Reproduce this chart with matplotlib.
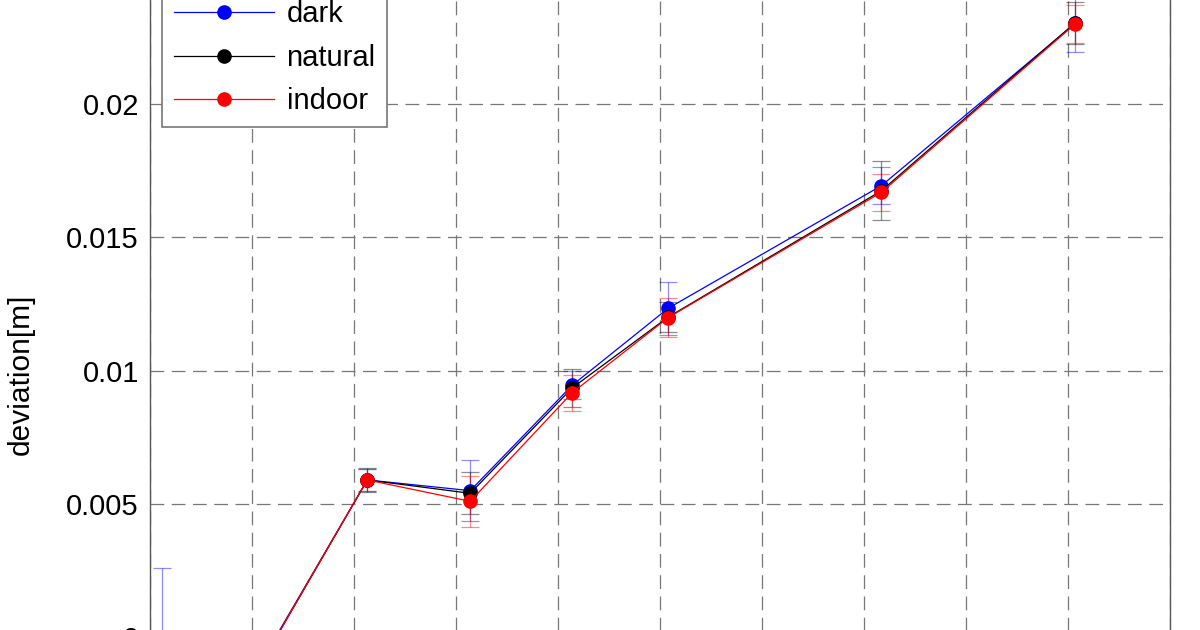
import numpy as np
import matplotlib
matplotlib.use('Agg')
import matplotlib.pyplot as plt

plt.rcParams['font.family'] = ['Liberation Sans', 'DejaVu Sans']

# measurement positions and mean deviation per lighting condition
x_pos = [0.12, 1.13, 2.13, 3.14, 4.14, 5.08, 7.17, 9.07]

dark = [-0.0005, -0.00065, 0.0059, 0.0055, 0.00945, 0.01233, 0.01692, 0.0230]
dark_err = [0.0031, 0.0005, 0.0004, 0.00113, 0.00053, 0.0010, 0.0007, 0.00106]

natural = [-0.0006, -0.0007, 0.0059, 0.0054, 0.00935, 0.0120, 0.01673, 0.02302]
natural_err = [0.0005, 0.0005, 0.00045, 0.00078, 0.0007, 0.00055, 0.0011, 0.0008]

indoor = [-0.0006, -0.0007, 0.0059, 0.0051, 0.00917, 0.01198, 0.01667, 0.02298]
indoor_err = [0.0004, 0.0004, 0.0004, 0.00096, 0.00067, 0.00072, 0.0007, 0.0007]

series = [('dark', dark, dark_err, 'blue'),
          ('natural', natural, natural_err, 'black'),
          ('indoor', indoor, indoor_err, 'red')]

y_ticks = [0, 0.005, 0.01, 0.015, 0.02]
y_ticklabels = ['0', '0.005', '0.01', '0.015', '0.02']

W, H = 1200, 630
fig = plt.figure(figsize=(W / 100, H / 100), dpi=100)

# the picture is a crop of a larger plot: the axes reach past the figure edges
ylo, yhi = -0.005, 0.025
px_per_unit = 26700.0
y0_px = 637.5
top_px = y0_px - yhi * px_per_unit
bot_px = y0_px - ylo * px_per_unit
ax = fig.add_axes([150 / W, (H - bot_px) / H, 1020 / W, (bot_px - top_px) / H])

for name, vals, err, col in series:
    ax.errorbar(x_pos, vals, yerr=err, fmt='none', ecolor=col, elinewidth=0.9,
                capsize=6.5, capthick=0.9, alpha=0.45, zorder=3)
    ax.plot(x_pos, vals, '-o', color=col, lw=0.9, ms=9.5, mec=col, label=name, zorder=4)

ax.set_xlim(0, 10)
ax.set_ylim(ylo, yhi)
ax.set_xticks(range(0, 11))
ax.set_xticklabels([])
ax.set_yticks(y_ticks)
ax.set_yticklabels(y_ticklabels)
ax.tick_params(axis='both', length=0, pad=8, labelsize=21)

ax.grid(True, color='#777777', lw=0.9, linestyle=(0, (11, 6)))
ax.set_axisbelow(True)
for s in ax.spines.values():
    s.set_color('#555555')
    s.set_linewidth(1.0)

ax.set_ylabel('deviation[m]', fontsize=21.5)
ax.yaxis.set_label_coords(35 / W, 1 - 374 / H, transform=fig.transFigure)

leg = ax.legend(loc='lower left', bbox_to_anchor=(162 / W, 1 - 127 / H),
                bbox_transform=fig.transFigure, borderaxespad=0, fontsize=21,
                numpoints=1, handlelength=3.45, handletextpad=0.42,
                labelspacing=0.53, borderpad=0.4, fancybox=False, framealpha=1)
leg.get_frame().set_edgecolor('#777777')
leg.get_frame().set_linewidth(1.2)

plt.savefig('out.png', dpi=100)
